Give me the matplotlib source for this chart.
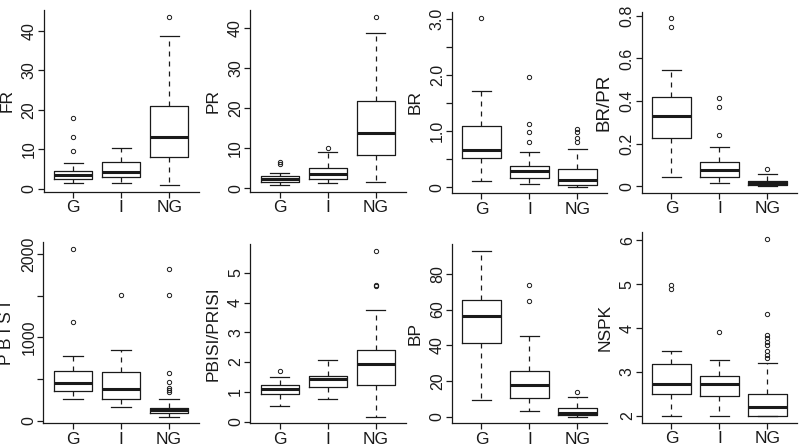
import matplotlib
matplotlib.use("Agg")
import matplotlib.pyplot as plt

plt.rcParams['font.family'] = ['Liberation Sans', 'DejaVu Sans']

groups = ['G', 'I', 'NG']

# five-number summaries per group: [whisker low, Q1, median, Q3, whisker high]
fr_stats = [[1.4, 2.4, 3.6, 4.6, 6.6], [1.4, 2.9, 4.2, 6.9, 10.3], [1.0, 8.2, 13.2, 20.9, 38.7]]
fr_out = [[9.7, 13.1, 17.9], [], [43.6]]

pr_stats = [[0.8, 1.5, 2.3, 3.1, 3.7], [1.4, 2.4, 3.5, 5.1, 9.0], [1.6, 8.3, 13.7, 21.6, 38.6]]
pr_out = [[6.1, 6.4], [10.0], [42.7]]

br_stats = [[0.11, 0.52, 0.66, 1.09, 1.72], [0.05, 0.17, 0.29, 0.37, 0.63], [0.01, 0.03, 0.125, 0.33, 0.68]]
br_out = [[3.01], [0.80, 0.99, 1.13, 1.96], [0.81, 0.87, 0.98, 1.03]]

brpr_stats = [[0.046, 0.229, 0.331, 0.418, 0.548], [0.015, 0.042, 0.077, 0.115, 0.186], [0.002, 0.008, 0.015, 0.026, 0.057]]
brpr_out = [[0.75, 0.788], [0.241, 0.373, 0.413], [0.082]]

pbisi_stats = [[256, 360, 452, 600, 776], [164, 256, 376, 584, 844], [48, 96, 127, 156, 256]]
pbisi_out = [[1184, 2064], [1512], [348, 367, 391, 463, 576, 1512, 1824]]

ratio_stats = [[0.53, 0.94, 1.11, 1.22, 1.50], [0.76, 1.17, 1.42, 1.54, 2.06], [0.17, 1.24, 1.94, 2.39, 3.74]]
ratio_out = [[1.71], [], [4.55, 4.60, 5.74]]

bp_stats = [[9.5, 41.1, 56.4, 65.1, 93.0], [3.0, 10.5, 17.5, 25.5, 45.0], [0.0, 0.8, 2.2, 4.6, 11.0]]
bp_out = [[], [65.0, 73.5], [14.0]]

nspk_stats = [[2.0, 2.50, 2.72, 3.19, 3.48], [2.0, 2.45, 2.72, 2.90, 3.28], [2.0, 2.0, 2.21, 2.50, 3.21]]
nspk_out = [[4.90, 4.98], [3.92], [3.32, 3.39, 3.47, 3.62, 3.69, 3.77, 3.85, 4.31, 6.02]]

W, H = 800, 447
fig = plt.figure(figsize=(W / 100, H / 100), dpi=100)
fig.patch.set_facecolor('white')

ink = '#1a1a1a'


def panel(left, bottom, top, stats, outs, ylabel, yticks, ylabels, lsize=12.5):
    # axes rectangle given in pixels of the final image
    ax = fig.add_axes([left / W, 1 - bottom / H, 155.5 / W, (bottom - top) / H])
    bx = []
    for s, o in zip(stats, outs):
        bx.append(dict(whislo=s[0], q1=s[1], med=s[2], q3=s[3], whishi=s[4], fliers=o))
    ax.bxp(bx, positions=[1, 2, 3], widths=0.8, capwidths=0.4, showfliers=True,
           boxprops=dict(lw=0.9, color=ink),
           medianprops=dict(lw=2.2, color=ink, solid_capstyle='butt'),
           whiskerprops=dict(lw=0.9, color=ink, linestyle=(0, (4, 4))),
           capprops=dict(lw=0.9, color=ink),
           flierprops=dict(marker='o', mfc='none', mec=ink, ms=3.1, mew=0.7))
    vals = [v for s in stats for v in s] + [v for o in outs for v in o]
    lo, hi = min(vals), max(vals)
    pad = 0.04 * (hi - lo)
    ax.set_ylim(lo - pad, hi + pad)
    ax.set_xlim(0.38, 3.62)
    for side in ('top', 'right'):
        ax.spines[side].set_visible(False)
    for side in ('left', 'bottom'):
        ax.spines[side].set_linewidth(0.9)
        ax.spines[side].set_color(ink)
    ax.set_xticks([1, 2, 3])
    ax.set_xticklabels(groups, fontsize=12.5, color=ink)
    ax.set_yticks(yticks)
    ax.set_yticklabels(ylabels, fontsize=11.5, color=ink)
    ax.tick_params(axis='x', length=4, width=0.9, pad=2, colors=ink)
    ax.tick_params(axis='y', length=4, width=0.9, pad=1, colors=ink, labelrotation=90)
    for t in ax.get_yticklabels():
        t.set_va('center')
    ax.set_ylabel(ylabel, fontsize=lsize, color=ink, labelpad=5)
    return ax


panel(43.5, 191.7, 10, fr_stats, fr_out, 'FR', [0, 10, 20, 30, 40], ['0', '10', '20', '30', '40'])
panel(250, 191.7, 10, pr_stats, pr_out, 'PR', [0, 10, 20, 30, 40], ['0', '10', '20', '30', '40'])
panel(451.7, 193.3, 11.7, br_stats, br_out, 'BR', [0, 0.5, 1.0, 1.5, 2.0, 2.5, 3.0],
      ['0', '', '1.0', '', '2.0', '', '3.0'])
panel(641.7, 192.7, 11.7, brpr_stats, brpr_out, 'BR/PR', [0, 0.2, 0.4, 0.6, 0.8],
      ['0', '0.2', '0.4', '0.6', '0.8'], lsize=13.5)

panel(43.3, 423.3, 242.3, pbisi_stats, pbisi_out, 'P B I S I', [0, 500, 1000, 1500, 2000],
      ['0', '', '1000', '', '2000'])
panel(250, 423.3, 244, ratio_stats, ratio_out, 'PBISI/PRISI', [0, 1, 2, 3, 4, 5],
      ['0', '1', '2', '3', '4', '5'])
panel(451.7, 423.3, 244, bp_stats, bp_out, 'BP', [0, 20, 40, 60, 80], ['0', '20', '40', '60', '80'])
panel(641.7, 423, 232.3, nspk_stats, nspk_out, 'NSPK', [2, 3, 4, 5, 6], ['2', '3', '4', '5', '6'])

fig.savefig('out.png', dpi=100, facecolor='white')
